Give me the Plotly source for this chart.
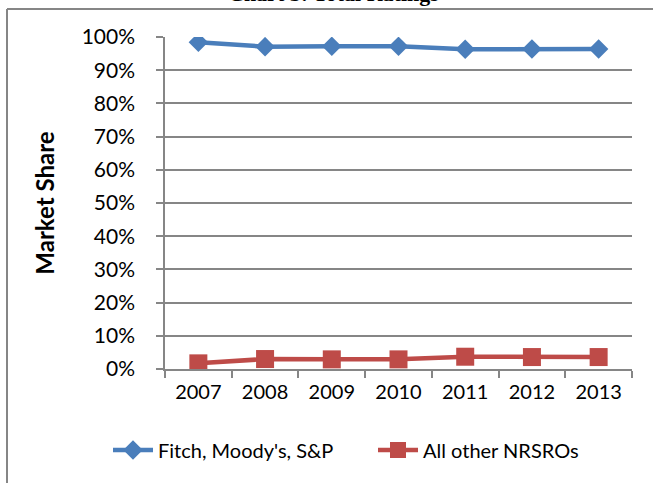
import plotly.graph_objects as go

years = ["2007", "2008", "2009", "2010", "2011", "2012", "2013"]
big_three = [0.984, 0.971, 0.972, 0.972, 0.963, 0.964, 0.964]
others = [0.017, 0.030, 0.029, 0.029, 0.037, 0.036, 0.036]
y_ticks = [0, 0.1, 0.2, 0.3, 0.4, 0.5, 0.6, 0.7, 0.8, 0.9, 1.0]

W, H = 653, 483
L, R, T, B = 165, 632, 37, 369

def px(x):
    return (x - L) / (R - L)

def py(y):
    return (B - y) / (B - T)

fig = go.Figure()
fig.add_trace(go.Scatter(
    x=years, y=big_three, mode="lines+markers", name="Fitch, Moody's, S&P",
    line=dict(color="#4A7EBB", width=4.5),
    marker=dict(symbol="diamond", size=15, color="#4A7EBB"),
))
fig.add_trace(go.Scatter(
    x=years, y=others, mode="lines+markers", name="All other NRSROs",
    line=dict(color="#BE4B48", width=4.5),
    marker=dict(symbol="square", size=18, color="#BE4B48"),
))

grid = "#868686"
fig.update_layout(
    width=W, height=H,
    margin=dict(l=L, r=W - R, t=T, b=H - B, pad=0),
    paper_bgcolor="white", plot_bgcolor="white",
    font=dict(family="Lato", size=20, color="black"),
    showlegend=True,
    legend=dict(orientation="h", x=px(108), y=py(450), xanchor="left", yanchor="middle",
                font=dict(family="Lato", size=20), entrywidth=210, itemwidth=40,
                bgcolor="rgba(0,0,0,0)"),
    xaxis=dict(type="category", categoryorder="array", categoryarray=years,
               range=[-0.5, 6.5], showgrid=False, showline=True, linecolor=grid, linewidth=1.5,
               ticks="outside", tickson="boundaries", ticklen=7, tickcolor=grid, tickwidth=1.5,
               tickfont=dict(family="Lato", size=20), ticklabelstandoff=4),
    yaxis=dict(range=[0, 1], tickvals=y_ticks, tickformat=".0%", showgrid=True,
               gridcolor=grid, gridwidth=1.5, showline=True, linecolor=grid, linewidth=1.5,
               ticks="outside", ticklen=7, tickcolor=grid, tickwidth=1.5, zeroline=False,
               tickfont=dict(family="Lato", size=21), ticklabelstandoff=17,
               title=dict(text="<b>Market Share</b>", font=dict(family="Lato", size=24), standoff=20)),
    shapes=[
        dict(type="line", xref="paper", yref="paper", x0=px(7), x1=px(660), y0=py(9), y1=py(9),
             line=dict(color=grid, width=2)),
        dict(type="line", xref="paper", yref="paper", x0=px(7), x1=px(7), y0=py(9), y1=py(490),
             line=dict(color=grid, width=2)),
    ],
    annotations=[
        dict(text="<b>Chart 3: Total Ratings</b>", xref="paper", yref="paper",
             x=px(333), y=py(8), xanchor="center", yanchor="bottom", showarrow=False,
             font=dict(family="Liberation Serif", size=22, color="black")),
    ],
)

fig.write_html("out.html", config={"displayModeBar": False},
               post_script="document.body.style.margin='0';document.body.style.padding='0';")
